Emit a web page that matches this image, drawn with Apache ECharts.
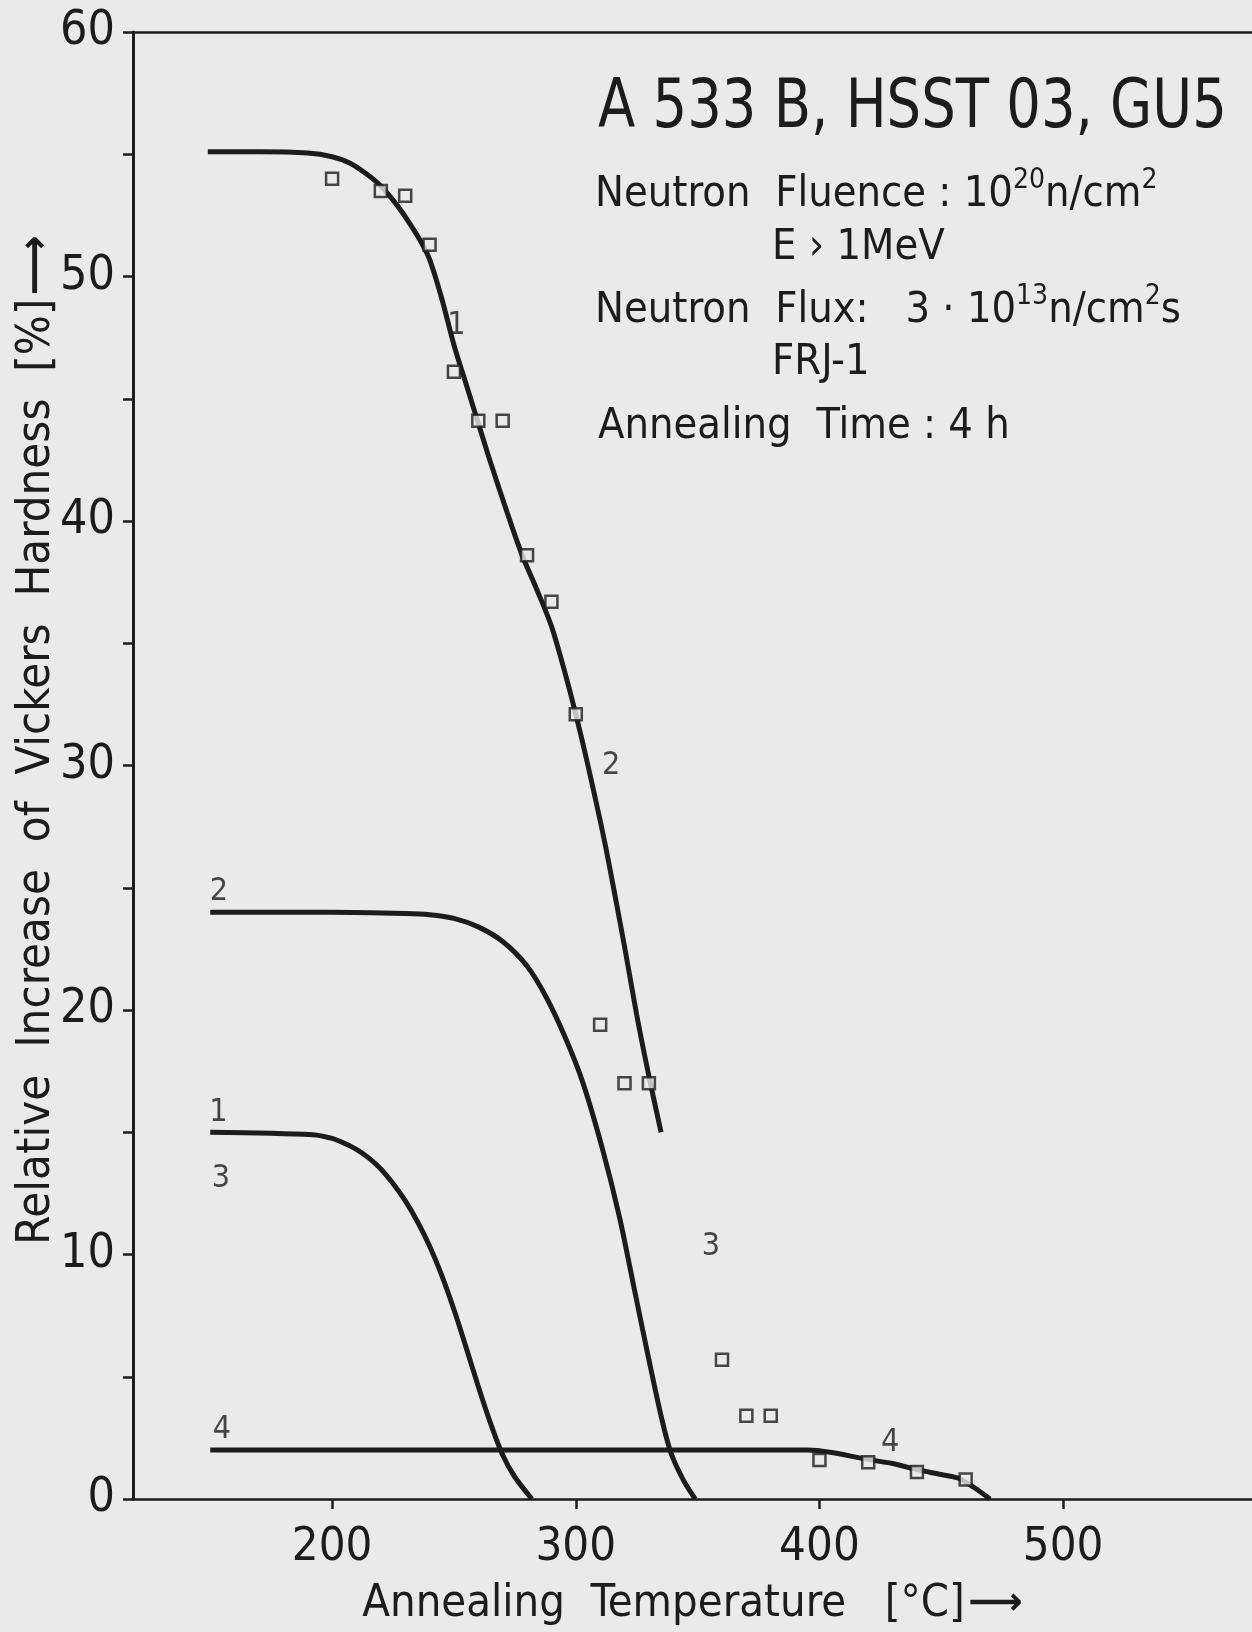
<!DOCTYPE html>
<html>
<head>
<meta charset="utf-8">
<title>A 533 B, HSST 03, GU5</title>
<script src="https://cdn.jsdelivr.net/npm/echarts@6/dist/echarts.min.js"></script>
<style>
html, body { margin:0; padding:0; background:#eaeaea; }
#chart { width:1252px; height:1632px; }
</style>
</head>
<body>
<div id="chart"></div>
<script>
// measured squares (annealing temperature / relative increase of hardness)
var squareTemps  = [200, 220, 230, 240, 250, 260, 270, 280, 290, 300, 310, 320, 330, 360, 370, 380, 400, 420, 440, 460];
var squareValues = [54.0, 53.5, 53.3, 51.3, 46.1, 44.1, 44.1, 38.6, 36.7, 32.1, 19.4, 17.0, 17.0, 5.7, 3.4, 3.4, 1.6, 1.5, 1.1, 0.8];

// upper curve, through the measured points
var topTemps  = [149, 170, 190, 200, 207, 214, 220, 226, 231, 236, 240, 245, 250, 255, 260, 265, 272, 278, 284, 290, 295, 300, 305, 312, 320, 325, 330, 335];
var topValues = [55.1, 55.1, 55.05, 54.9, 54.65, 54.2, 53.7, 53.0, 52.3, 51.5, 50.7, 49.1, 47.2, 45.6, 44.0, 42.4, 40.3, 38.6, 37.2, 35.7, 34.0, 32.1, 30.0, 26.8, 22.6, 19.8, 17.3, 15.0];

// stage 2 curve (starts at 24 %)
var stage2Temps  = [150, 200, 230, 240, 250, 260, 270, 280, 288, 296, 303, 311, 318, 324, 330, 335, 339, 344, 349];
var stage2Values = [24.0, 24.0, 23.95, 23.9, 23.75, 23.4, 22.8, 21.8, 20.5, 18.8, 17.0, 14.3, 11.5, 8.6, 5.7, 3.4, 1.9, 0.8, 0];

// stage 1 / 3 curve (starts at 15 %)
var stage1Temps  = [150, 192, 200, 205, 210, 215, 220, 225, 230, 235, 240, 245, 250, 255, 260, 265, 270, 275, 282];
var stage1Values = [15.0, 14.9, 14.75, 14.55, 14.3, 13.95, 13.5, 12.9, 12.2, 11.35, 10.35, 9.15, 7.75, 6.2, 4.6, 3.1, 1.8, 0.9, 0];

// stage 4 curve (2 %)
var stage4Temps  = [150, 250, 350, 395, 405, 418, 430, 440, 450, 457, 463, 470];
var stage4Values = [2.0, 2.0, 2.0, 2.0, 1.9, 1.65, 1.45, 1.2, 1.0, 0.85, 0.5, 0];

// stage numbers written next to the curves
var labelTemps  = [251, 314.5, 153.6, 153.3, 154.4, 355.5, 154.8, 429];
var labelValues = [48.0, 30.0, 24.85, 15.8, 13.1, 10.3, 2.85, 2.3];
var labelTexts  = ['1', '2', '2', '1', '3', '3', '4', '4'];

var xTicks = [200, 300, 400, 500];

var FONT = "'DejaVu Sans Condensed', 'Liberation Sans Narrow', sans-serif";
var INK = '#1c1c1c';
var BG = '#eaeaea';

function pairs(xs, ys){
	var out = [];
	for(var i=0;i<xs.length;i++){
		out.push([xs[i], ys[i]]);
	}
	return out;
}

function curve(xs, ys){
	return {
		type:'line',
		data:pairs(xs, ys),
		showSymbol:false,
		smooth:0.3,
		silent:true,
		lineStyle:{color:INK, width:5},
		z:2
	};
}

var labelData = [];
for(var i=0;i<labelTexts.length;i++){
	labelData.push({name:labelTexts[i], value:[labelTemps[i], labelValues[i]]});
}

var chart = echarts.init(document.getElementById('chart'), null, {renderer:'canvas'});

var option = {
	backgroundColor:BG,
	animation:false,
	grid:{left:133, right:0, top:32, bottom:124, containLabel:false},
	xAxis:[{
		type:'value',
		min:118.3,
		max:577.5,
		position:'bottom',
		name:'{t|Annealing  Temperature   [°C]} {a|⟶}',
		nameLocation:'middle',
		nameGap:83,
		nameTextStyle:{
			rich:{
				t:{fontSize:45, fontFamily:FONT, color:INK},
				a:{fontSize:38, fontWeight:'bold', fontFamily:'DejaVu Sans', color:INK}
			}
		},
		axisLine:{lineStyle:{color:INK, width:2.5}},
		axisTick:{customValues:xTicks, length:10, lineStyle:{color:INK, width:2.5}},
		axisLabel:{customValues:xTicks, fontSize:47, fontFamily:FONT, color:INK, margin:25},
		splitLine:{show:false}
	},{
		// upper frame line
		type:'value',
		min:118.3,
		max:577.5,
		position:'top',
		axisLine:{lineStyle:{color:INK, width:2.5}},
		axisTick:{show:false},
		axisLabel:{show:false},
		splitLine:{show:false}
	}],
	yAxis:{
		type:'value',
		min:0,
		max:60,
		interval:5,
		axisLine:{lineStyle:{color:INK, width:3}},
		axisTick:{length:10, lineStyle:{color:INK, width:2.5}},
		axisLabel:{
			fontSize:48, fontFamily:FONT, color:INK, margin:18,
			formatter:function(v){ return v % 10 === 0 ? v : ''; }
		},
		splitLine:{show:false}
	},
	series:[
		curve(topTemps, topValues),
		curve(stage2Temps, stage2Values),
		curve(stage1Temps, stage1Values),
		curve(stage4Temps, stage4Values),
		{
			type:'scatter',
			data:pairs(squareTemps, squareValues),
			symbol:'rect',
			symbolSize:12,
			silent:true,
			itemStyle:{color:BG, borderColor:INK, borderWidth:2.5},
			z:3
		},
		{
			type:'scatter',
			data:labelData,
			symbolSize:1,
			silent:true,
			itemStyle:{color:'rgba(0,0,0,0)'},
			label:{
				show:true,
				position:'inside',
				formatter:'{b}',
				fontSize:32,
				fontFamily:FONT,
				color:INK
			},
			z:4
		}
	],
	graphic:[
		{
			// title, squeezed to the narrow lettering of the original
			type:'text', x:598, y:109, scaleX:0.89,
			style:{text:'A 533 B, HSST 03, GU5', fontSize:68, fontFamily:FONT, fill:INK, verticalAlign:'middle'}
		},
		{
			type:'text', x:595, y:195,
			style:{
				text:'{m|Neutron  Fluence : 10}{s|20}{m|n/cm}{s|2}',
				fill:INK, verticalAlign:'middle',
				rich:{
					m:{fontSize:43, lineHeight:56, fontFamily:FONT},
					s:{fontSize:28, lineHeight:28, fontFamily:FONT, verticalAlign:'top'}
				}
			}
		},
		{
			type:'text', x:772, y:248,
			style:{text:'E › 1MeV', fontSize:43, fontFamily:FONT, fill:INK, verticalAlign:'middle'}
		},
		{
			type:'text', x:595, y:311,
			style:{
				text:'{m|Neutron  Flux:   3 · 10}{s|13}{m|n/cm}{s|2}{m|s}',
				fill:INK, verticalAlign:'middle',
				rich:{
					m:{fontSize:43, lineHeight:56, fontFamily:FONT},
					s:{fontSize:28, lineHeight:28, fontFamily:FONT, verticalAlign:'top'}
				}
			}
		},
		{
			type:'text', x:772, y:363,
			style:{text:'FRJ-1', fontSize:43, fontFamily:FONT, fill:INK, verticalAlign:'middle'}
		},
		{
			type:'text', x:598, y:427,
			style:{text:'Annealing  Time : 4 h', fontSize:43, fontFamily:FONT, fill:INK, verticalAlign:'middle'}
		},
		{
			// rotated y axis title
			type:'text', x:37, y:740, rotation:Math.PI/2,
			style:{
				text:'{t|Relative  Increase  of  Vickers  Hardness  [%]} {a|⟶}',
				fill:INK, align:'center', verticalAlign:'middle',
				rich:{
					t:{fontSize:47, fontFamily:FONT},
					a:{fontSize:42, fontWeight:'bold', fontFamily:'DejaVu Sans'}
				}
			}
		}
	]
};

chart.setOption(option);
</script>
</body>
</html>
